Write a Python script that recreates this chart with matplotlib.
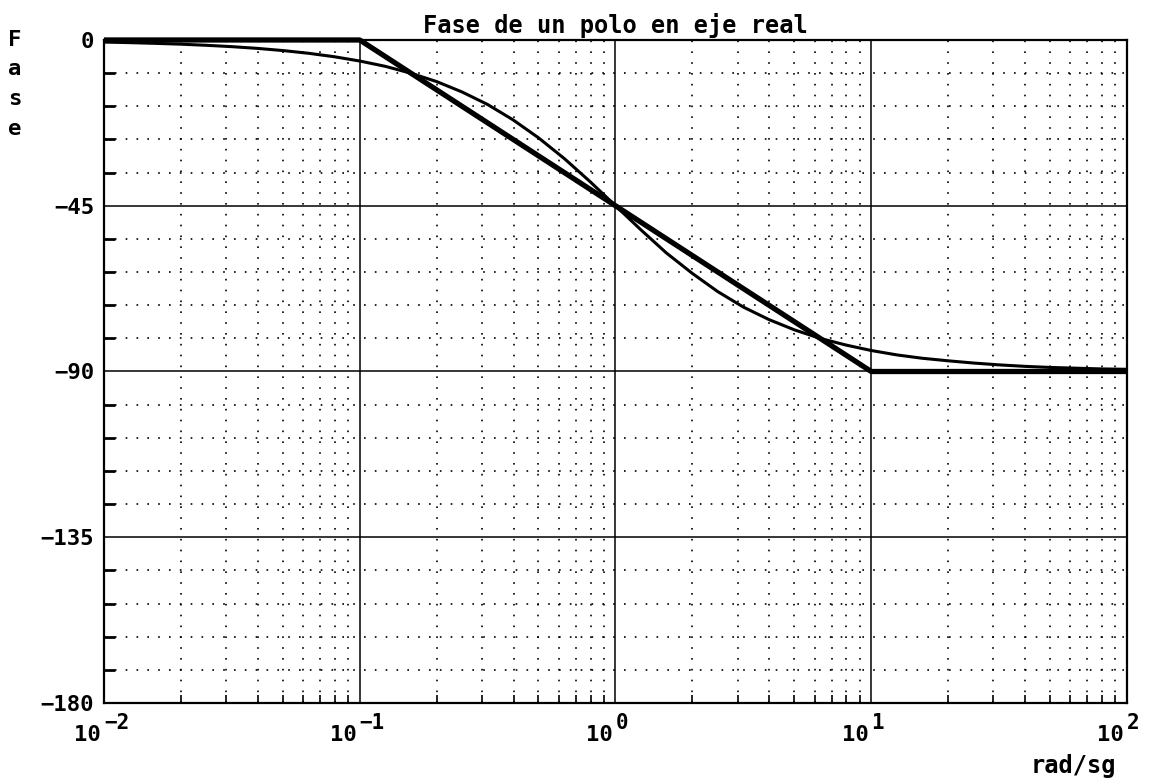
import numpy as np
import matplotlib
matplotlib.use('Agg')
import matplotlib.pyplot as plt
from matplotlib.ticker import FixedLocator, NullFormatter, FuncFormatter

plt.rcParams.update({
    'font.family': 'DejaVu Sans Mono',
    'font.weight': 'bold',
})

# --- datos ---
w = [0.01, 0.0126, 0.0158, 0.02, 0.0251, 0.0316, 0.0398, 0.0501, 0.0631, 0.0794,
     0.1, 0.126, 0.158, 0.2, 0.251, 0.316, 0.398, 0.501, 0.631, 0.794,
     1.0, 1.26, 1.58, 2.0, 2.51, 3.16, 3.98, 5.01, 6.31, 7.94,
     10.0, 12.6, 15.8, 20.0, 25.1, 31.6, 39.8, 50.1, 63.1, 79.4, 100.0]
fase = [-0.57, -0.72, -0.91, -1.14, -1.44, -1.81, -2.28, -2.87, -3.61, -4.54,
        -5.71, -7.16, -9.0, -11.3, -14.1, -17.5, -21.7, -26.6, -32.2, -38.4,
        -45.0, -51.6, -57.8, -63.4, -68.3, -72.5, -75.9, -78.7, -81.0, -82.8,
        -84.3, -85.5, -86.4, -87.1, -87.7, -88.2, -88.6, -88.9, -89.1, -89.3, -89.4]

# asintotas
w_asin = [0.01, 0.1, 10, 100]
fase_asin = [0, 0, -90, -90]

y_major = [0, -45, -90, -135, -180]
y_minor = [v for v in range(0, -181, -9) if v % 45 != 0]
x_major = [0.01, 0.1, 1, 10, 100]
x_exp = ['\u22122', '\u22121', '0', '1', '2']
x_minor = [m * 10.0**e for e in range(-2, 2) for m in range(2, 10)]

fig = plt.figure(figsize=(11.54, 7.84), dpi=100)
ax = fig.add_axes([0.0901, 0.1033, 0.8865, 0.8457])

ax.set_xscale('log')
ax.set_xlim(0.01, 100)
ax.set_ylim(-180, 0)

# rejilla
ax.xaxis.set_major_locator(FixedLocator(x_major))
ax.xaxis.set_minor_locator(FixedLocator(x_minor))
ax.yaxis.set_major_locator(FixedLocator(y_major))
ax.yaxis.set_minor_locator(FixedLocator(y_minor))
ax.grid(which='major', color='black', linewidth=1.1, linestyle='-')
ax.grid(which='minor', color='black', linewidth=1.2, linestyle=(0, (1, 5.5)))

ax.plot(w, fase, color='black', linewidth=2.2, zorder=3)
ax.plot(w_asin, fase_asin, color='black', linewidth=3.8, zorder=4,
        solid_capstyle='butt', clip_on=False)

ax.xaxis.set_major_formatter(NullFormatter())
ax.xaxis.set_minor_formatter(NullFormatter())
ax.yaxis.set_major_formatter(FuncFormatter(lambda v, p: ('%d' % v).replace('-', '\u2212')))

ax.tick_params(axis='x', which='major', length=0)
ax.tick_params(axis='x', which='minor', direction='in', length=6, width=1.2)
ax.tick_params(axis='y', which='major', length=0, pad=7, labelsize=16)
ax.tick_params(axis='y', which='minor', direction='in', length=8, width=2)

# etiquetas 10^n
for v, e in zip(x_major, x_exp):
    ax.annotate('10', xy=(v, 0), xycoords=('data', 'axes fraction'),
                xytext=(-2, -16), textcoords='offset points',
                ha='right', va='top', fontsize=16, fontweight='bold')
    ax.annotate(e, xy=(v, 0), xycoords=('data', 'axes fraction'),
                xytext=(0, -7.5), textcoords='offset points',
                ha='left', va='top', fontsize=15, fontweight='bold')

for s in ax.spines.values():
    s.set_linewidth(1.6)

ax.set_title('Fase de un polo en eje real', fontsize=17, fontweight='bold', pad=5)
fig.text(0.013, 0.962, 'F\na\ns\ne', fontsize=16, fontweight='bold',
         va='top', ha='center', linespacing=1.6)
fig.text(0.930, 0.008, 'rad/sg', fontsize=17, fontweight='bold',
         va='bottom', ha='center')

fig.savefig('out.png', dpi=100)
